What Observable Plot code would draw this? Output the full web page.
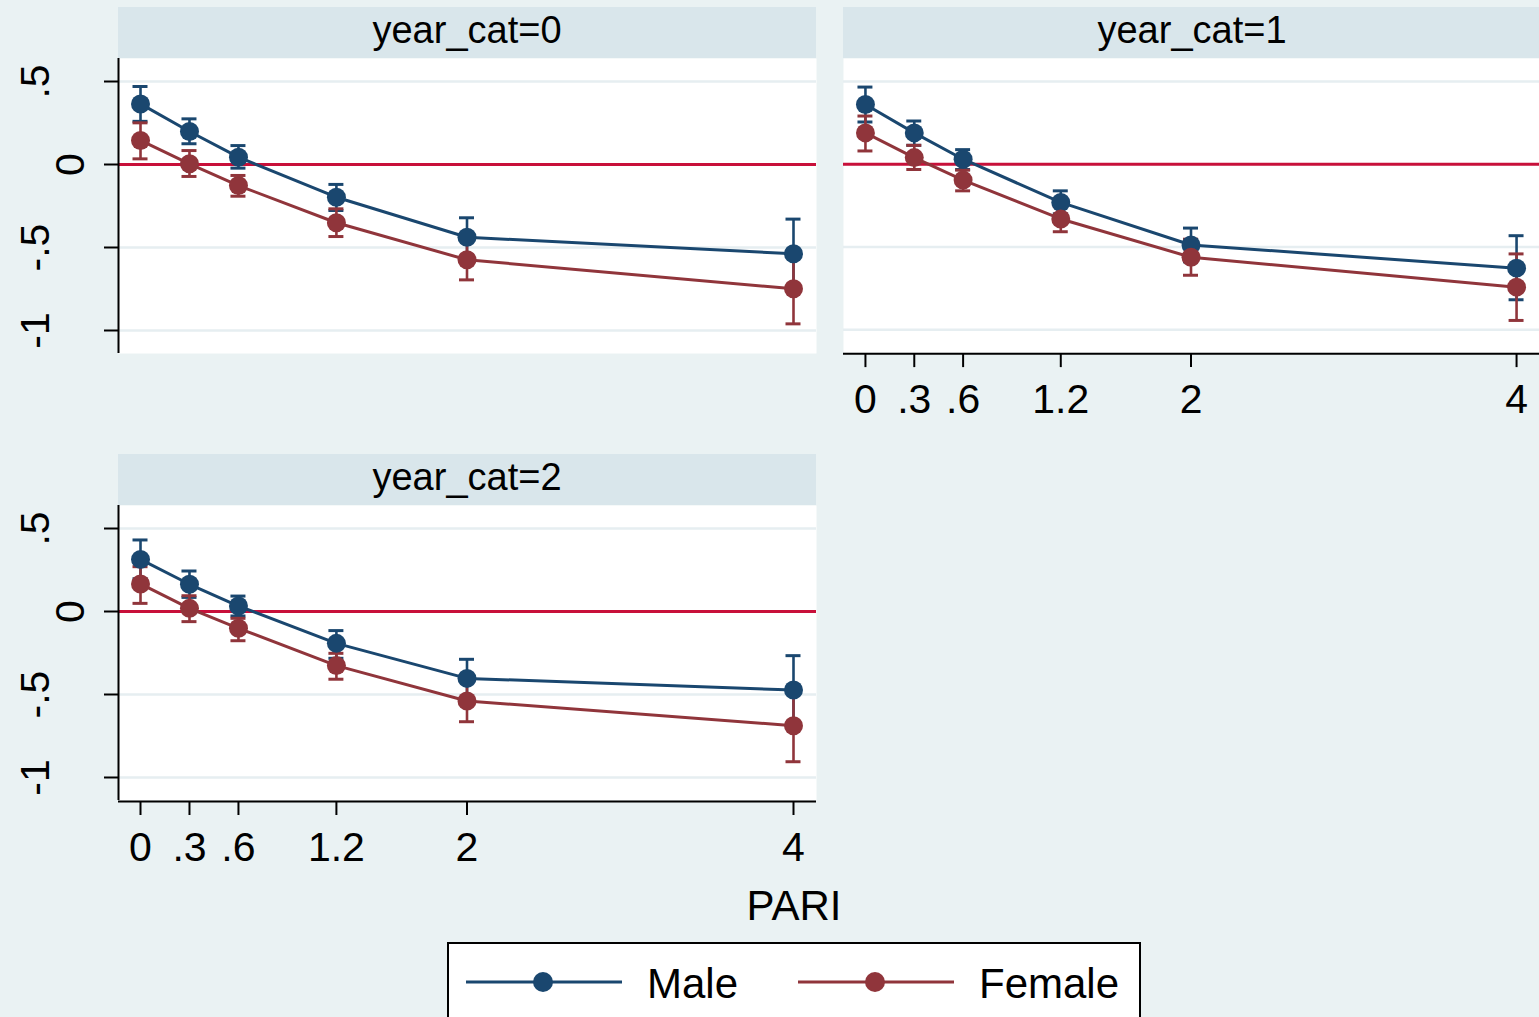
<!DOCTYPE html>
<html>
<head>
<meta charset="utf-8">
<script src="https://cdn.jsdelivr.net/npm/d3@7"></script>
<script src="https://cdn.jsdelivr.net/npm/@observablehq/plot@0.6"></script>
<style>
  html, body { margin: 0; padding: 0; background: #eaf2f3; overflow: hidden; }
  #graph { position: relative; width: 1539px; height: 1017px; background: #eaf2f3;
           font-family: "Liberation Sans", Arial, Helvetica, sans-serif; color: #000; }
  .strip { position: absolute; height: 51px; background: #d9e6eb; display: flex;
           align-items: center; justify-content: center; font-size: 38px; line-height: 1;
           box-sizing: border-box; padding-bottom: 5px; }
  .panel { position: absolute; }
  .panel svg { overflow: visible; display: block; }
  #xtitle { position: absolute; left: 694px; width: 200px; top: 883px; text-align: center;
            font-size: 42px; line-height: 46px; }
  #legend { position: absolute; left: 447px; top: 942px; width: 694px; height: 90px;
            background: #fff; border: 2px solid #000; box-sizing: border-box; }
</style>
</head>
<body>
<div id="graph"></div>
<script>
// PARI levels on the x axis and their printed labels
const pari = [0, 0.3, 0.6, 1.2, 2, 4];
const pariLabels = ["0", ".3", ".6", "1.2", "2", "4"];

// y axis ticks and their printed labels
const yTicks = [0.5, 0, -0.5, -1];
const yTickLabels = [".5", "0", "-.5", "-1"];

const yearCats = [0, 1, 2];
const sexes = ["Male", "Female"];

// Predictive margins with 95% CIs, one row per year_cat (values at each PARI level)
const maleEst = [
  [0.365, 0.199, 0.044, -0.197, -0.438, -0.538],
  [0.361, 0.189, 0.030, -0.231, -0.488, -0.628],
  [0.314, 0.164, 0.033, -0.192, -0.403, -0.473]
];
const maleLo = [
  [0.260, 0.125, -0.022, -0.277, -0.555, -0.747],
  [0.255, 0.114, -0.032, -0.300, -0.590, -0.819],
  [0.197, 0.085, -0.027, -0.282, -0.518, -0.680]
];
const maleHi = [
  [0.470, 0.275, 0.114, -0.120, -0.321, -0.329],
  [0.466, 0.261, 0.088, -0.161, -0.386, -0.432],
  [0.431, 0.244, 0.093, -0.115, -0.288, -0.266]
];
const femaleEst = [
  [0.145, 0.004, -0.127, -0.351, -0.574, -0.749],
  [0.189, 0.040, -0.096, -0.331, -0.562, -0.743],
  [0.166, 0.019, -0.101, -0.326, -0.539, -0.688]
];
const femaleLo = [
  [0.034, -0.072, -0.191, -0.434, -0.695, -0.960],
  [0.080, -0.032, -0.161, -0.408, -0.671, -0.944],
  [0.049, -0.061, -0.176, -0.408, -0.664, -0.905]
];
const femaleHi = [
  [0.251, 0.084, -0.066, -0.267, -0.453, -0.538],
  [0.291, 0.114, -0.036, -0.256, -0.453, -0.542],
  [0.270, 0.095, -0.041, -0.252, -0.414, -0.471]
];

// Styling
const colors = { Male: "#1a476f", Female: "#90353b" };
const refColor = "#c8103a";
const gridColor = "#e6eef1";
const fontFamily = '"Liberation Sans", Arial, Helvetica, sans-serif';

const xDomain = [-0.1348, 4.1409];
const yDomain = [-1.1386, 0.6386];
const plotW = 698, plotH = 295, marginL = 118, marginB = 75;
const capHalf = 7.5 / (plotW / (xDomain[1] - xDomain[0]));

function rowsFor(cat) {
  const out = [];
  const src = { Male: [maleEst, maleLo, maleHi], Female: [femaleEst, femaleLo, femaleHi] };
  for (const sex of sexes) {
    const [e, lo, hi] = src[sex];
    pari.forEach((p, i) => out.push({ sex, pari: p, est: e[cat][i], lo: lo[cat][i], hi: hi[cat][i] }));
  }
  return out;
}

function panel(cat, showY, showX) {
  const rows = rowsFor(cat);
  const marks = [
    Plot.frame({ fill: "white", stroke: null }),
    Plot.ruleY(yTicks, { stroke: gridColor, strokeWidth: 2.5 }),
    Plot.ruleY([0], { stroke: refColor, strokeWidth: 3 })
  ];
  // confidence intervals with caps
  for (const sex of sexes) {
    const d = rows.filter(r => r.sex === sex);
    const c = colors[sex];
    marks.push(
      Plot.ruleX(d, { x: "pari", y1: "lo", y2: "hi", stroke: c, strokeWidth: 2.6 }),
      Plot.ruleY(d, { y: "lo", x1: r => r.pari - capHalf, x2: r => r.pari + capHalf, stroke: c, strokeWidth: 3 }),
      Plot.ruleY(d, { y: "hi", x1: r => r.pari - capHalf, x2: r => r.pari + capHalf, stroke: c, strokeWidth: 3 })
    );
  }
  // connected estimates
  for (const sex of sexes) {
    const d = rows.filter(r => r.sex === sex);
    const c = colors[sex];
    marks.push(
      Plot.line(d, { x: "pari", y: "est", stroke: c, strokeWidth: 3 }),
      Plot.dot(d, { x: "pari", y: "est", r: 9.5, fill: c, stroke: null })
    );
  }
  if (showY) {
    marks.push(
      Plot.ruleX([xDomain[0]], { stroke: "black", strokeWidth: 2 }),
      Plot.axisY(yTicks, { tickSize: 14, strokeWidth: 2, fill: "none", label: null }),
      Plot.text(yTicks, {
        filter: d => d === 0, y: d => d, text: d => yTickLabels[yTicks.indexOf(d)],
        frameAnchor: "left", dx: -48, rotate: -90, fontSize: 41,
        textAnchor: "middle", lineAnchor: "middle"
      }),
      Plot.text(yTicks, {
        filter: d => d !== 0, y: d => d, text: d => yTickLabels[yTicks.indexOf(d)],
        frameAnchor: "left", dx: -83, rotate: -90, fontSize: 41,
        textAnchor: "middle", lineAnchor: "middle"
      })
    );
  }
  if (showX) {
    marks.push(
      Plot.ruleY([yDomain[0]], { stroke: "black", strokeWidth: 2, dy: 1 }),
      Plot.axisX(pari, { tickSize: 14, strokeWidth: 2, fill: "none", label: null, dy: 1 }),
      Plot.text(pari, {
        x: d => d, text: d => pariLabels[pari.indexOf(d)],
        frameAnchor: "bottom", dy: 47, fontSize: 41, lineAnchor: "middle"
      })
    );
  }
  return Plot.plot({
    width: plotW + (showY ? marginL : 0),
    height: plotH + (showX ? marginB : 0),
    marginLeft: showY ? marginL : 0,
    marginRight: 0,
    marginTop: 0,
    marginBottom: showX ? marginB : 0,
    style: { background: "transparent", fontFamily, color: "#000", overflow: "visible" },
    x: { domain: xDomain, axis: null },
    y: { domain: yDomain, axis: null },
    marks
  });
}

const graph = document.getElementById("graph");

// panel layout: strip header position and plot placement
const layout = [
  { cat: 0, stripLeft: 118, stripTop: 7, left: 0, top: 58, showY: true, showX: false },
  { cat: 1, stripLeft: 843, stripTop: 7, left: 843, top: 58, showY: false, showX: true },
  { cat: 2, stripLeft: 118, stripTop: 454, left: 0, top: 505, showY: true, showX: true }
];

for (const p of layout) {
  const strip = document.createElement("div");
  strip.className = "strip";
  strip.style.left = p.stripLeft + "px";
  strip.style.top = p.stripTop + "px";
  strip.style.width = plotW + "px";
  strip.textContent = "year_cat=" + yearCats[p.cat];
  graph.appendChild(strip);

  const holder = document.createElement("div");
  holder.className = "panel";
  holder.style.left = p.left + "px";
  holder.style.top = p.top + "px";
  holder.appendChild(panel(p.cat, p.showY, p.showX));
  graph.appendChild(holder);
}

const xtitle = document.createElement("div");
xtitle.id = "xtitle";
xtitle.textContent = "PARI";
graph.appendChild(xtitle);

// legend
const legend = document.createElement("div");
legend.id = "legend";
graph.appendChild(legend);
const lsvg = d3.select(legend).append("svg").attr("width", 690).attr("height", 86);
sexes.forEach((sex, i) => {
  const g = lsvg.append("g").attr("transform", `translate(${17 + i * 332},0)`);
  g.append("line").attr("x1", 0).attr("x2", 156).attr("y1", 38).attr("y2", 38)
    .attr("stroke", colors[sex]).attr("stroke-width", 3.2);
  g.append("circle").attr("cx", 77).attr("cy", 38).attr("r", 10).attr("fill", colors[sex]);
  g.append("text").attr("x", 181).attr("y", 54).attr("font-size", 42)
    .attr("font-family", fontFamily).attr("fill", "#000").text(sex);
});
</script>
</body>
</html>
